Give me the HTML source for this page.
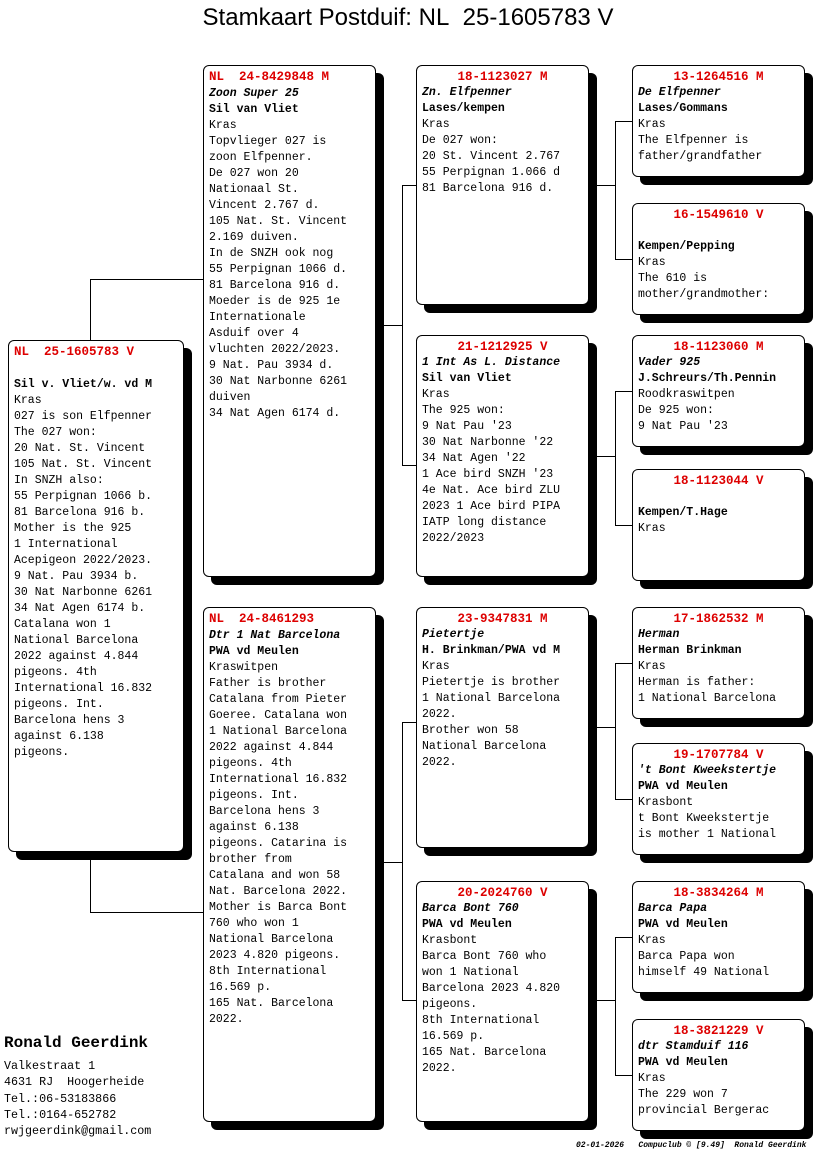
<!DOCTYPE html>
<html><head><style>
body{margin:0;width:816px;height:1172px;background:#fff;position:relative;font-family:"Liberation Mono",monospace;overflow:hidden}
.t{position:absolute;left:0;width:816px;top:4px;text-align:center;font-family:"Liberation Sans",sans-serif;font-size:24px}
.b{position:absolute;background:#fff;border:1px solid #000;border-radius:6px;box-shadow:8px 8px 0 #000;box-sizing:border-box;padding:3px 0 0 5px;font-size:11.5px;line-height:16px;white-space:pre;color:#000}
.h{color:#d00;font-weight:bold;font-size:12.5px}
.c{text-align:center;display:block;margin-left:-5px}
.i{font-style:italic;font-weight:bold}
.s{font-weight:bold}
.l{position:absolute;background:#000}
.f{position:absolute;left:4px;font-size:11.7px;line-height:16.3px;white-space:pre}
</style></head><body>
<div class="t">Stamkaart Postduif: NL&nbsp; 25-1605783 V</div>

<div class="l" style="left:90px;top:279px;width:1px;height:61px"></div>
<div class="l" style="left:90px;top:279px;width:113px;height:1px"></div>
<div class="l" style="left:90px;top:852px;width:1px;height:60px"></div>
<div class="l" style="left:90px;top:912px;width:113px;height:1px"></div>

<div class="l" style="left:376px;top:325px;width:26px;height:1px"></div>
<div class="l" style="left:402px;top:185px;width:1px;height:280px"></div>
<div class="l" style="left:402px;top:185px;width:14px;height:1px"></div>
<div class="l" style="left:402px;top:465px;width:14px;height:1px"></div>
<div class="l" style="left:376px;top:862px;width:26px;height:1px"></div>
<div class="l" style="left:402px;top:722px;width:1px;height:278px"></div>
<div class="l" style="left:402px;top:722px;width:14px;height:1px"></div>
<div class="l" style="left:402px;top:1000px;width:14px;height:1px"></div>

<div class="l" style="left:589px;top:185px;width:26px;height:1px"></div>
<div class="l" style="left:615px;top:121px;width:1px;height:138px"></div>
<div class="l" style="left:615px;top:121px;width:17px;height:1px"></div>
<div class="l" style="left:615px;top:259px;width:17px;height:1px"></div>
<div class="l" style="left:589px;top:456px;width:26px;height:1px"></div>
<div class="l" style="left:615px;top:391px;width:1px;height:134px"></div>
<div class="l" style="left:615px;top:391px;width:17px;height:1px"></div>
<div class="l" style="left:615px;top:525px;width:17px;height:1px"></div>
<div class="l" style="left:589px;top:727px;width:26px;height:1px"></div>
<div class="l" style="left:615px;top:663px;width:1px;height:136px"></div>
<div class="l" style="left:615px;top:663px;width:17px;height:1px"></div>
<div class="l" style="left:615px;top:799px;width:17px;height:1px"></div>
<div class="l" style="left:589px;top:1000px;width:26px;height:1px"></div>
<div class="l" style="left:615px;top:937px;width:1px;height:138px"></div>
<div class="l" style="left:615px;top:937px;width:17px;height:1px"></div>
<div class="l" style="left:615px;top:1075px;width:17px;height:1px"></div>

<div class="b" style="left:8px;top:340px;width:176px;height:512px"><span class="h">NL  25-1605783 V</span>

<span class="s">Sil v. Vliet/w. vd M</span>
Kras
027 is son Elfpenner
The 027 won:
20 Nat. St. Vincent
105 Nat. St. Vincent
In SNZH also:
55 Perpignan 1066 b.
81 Barcelona 916 b.
Mother is the 925
1 International
Acepigeon 2022/2023.
9 Nat. Pau 3934 b.
30 Nat Narbonne 6261
34 Nat Agen 6174 b.
Catalana won 1
National Barcelona
2022 against 4.844
pigeons. 4th
International 16.832
pigeons. Int.
Barcelona hens 3
against 6.138
pigeons.</div>

<div class="b" style="left:203px;top:65px;width:173px;height:512px"><span class="h">NL  24-8429848 M</span>
<span class="i">Zoon Super 25</span>
<span class="s">Sil van Vliet</span>
Kras
Topvlieger 027 is
zoon Elfpenner.
De 027 won 20
Nationaal St.
Vincent 2.767 d.
105 Nat. St. Vincent
2.169 duiven.
In de SNZH ook nog
55 Perpignan 1066 d.
81 Barcelona 916 d.
Moeder is de 925 1e
Internationale
Asduif over 4
vluchten 2022/2023.
9 Nat. Pau 3934 d.
30 Nat Narbonne 6261
duiven
34 Nat Agen 6174 d.</div>

<div class="b" style="left:203px;top:607px;width:173px;height:515px"><span class="h">NL  24-8461293</span>
<span class="i">Dtr 1 Nat Barcelona</span>
<span class="s">PWA vd Meulen</span>
Kraswitpen
Father is brother
Catalana from Pieter
Goeree. Catalana won
1 National Barcelona
2022 against 4.844
pigeons. 4th
International 16.832
pigeons. Int.
Barcelona hens 3
against 6.138
pigeons. Catarina is
brother from
Catalana and won 58
Nat. Barcelona 2022.
Mother is Barca Bont
760 who won 1
National Barcelona
2023 4.820 pigeons.
8th International
16.569 p.
165 Nat. Barcelona
2022.</div>

<div class="b" style="left:416px;top:65px;width:173px;height:240px"><span class="h c">18-1123027 M</span><span class="i">Zn. Elfpenner</span>
<span class="s">Lases/kempen</span>
Kras
De 027 won:
20 St. Vincent 2.767
55 Perpignan 1.066 d
81 Barcelona 916 d.</div>

<div class="b" style="left:416px;top:335px;width:173px;height:242px"><span class="h c">21-1212925 V</span><span class="i">1 Int As L. Distance</span>
<span class="s">Sil van Vliet</span>
Kras
The 925 won:
9 Nat Pau '23
30 Nat Narbonne '22
34 Nat Agen '22
1 Ace bird SNZH '23
4e Nat. Ace bird ZLU
2023 1 Ace bird PIPA
IATP long distance
2022/2023</div>

<div class="b" style="left:416px;top:607px;width:173px;height:241px"><span class="h c">23-9347831 M</span><span class="i">Pietertje</span>
<span class="s">H. Brinkman/PWA vd M</span>
Kras
Pietertje is brother
1 National Barcelona
2022.
Brother won 58
National Barcelona
2022.</div>

<div class="b" style="left:416px;top:881px;width:173px;height:241px"><span class="h c">20-2024760 V</span><span class="i">Barca Bont 760</span>
<span class="s">PWA vd Meulen</span>
Krasbont
Barca Bont 760 who
won 1 National
Barcelona 2023 4.820
pigeons.
8th International
16.569 p.
165 Nat. Barcelona
2022.</div>

<div class="b" style="left:632px;top:65px;width:173px;height:112px"><span class="h c">13-1264516 M</span><span class="i">De Elfpenner</span>
<span class="s">Lases/Gommans</span>
Kras
The Elfpenner is
father/grandfather</div>
<div class="b" style="left:632px;top:203px;width:173px;height:112px"><span class="h c">16-1549610 V</span>
<span class="s">Kempen/Pepping</span>
Kras
The 610 is
mother/grandmother:</div>
<div class="b" style="left:632px;top:335px;width:173px;height:112px"><span class="h c">18-1123060 M</span><span class="i">Vader 925</span>
<span class="s">J.Schreurs/Th.Pennin</span>
Roodkraswitpen
De 925 won:
9 Nat Pau '23</div>
<div class="b" style="left:632px;top:469px;width:173px;height:112px"><span class="h c">18-1123044 V</span>
<span class="s">Kempen/T.Hage</span>
Kras</div>
<div class="b" style="left:632px;top:607px;width:173px;height:112px"><span class="h c">17-1862532 M</span><span class="i">Herman</span>
<span class="s">Herman Brinkman</span>
Kras
Herman is father:
1 National Barcelona</div>
<div class="b" style="left:632px;top:743px;width:173px;height:112px"><span class="h c">19-1707784 V</span><span class="i">'t Bont Kweekstertje</span>
<span class="s">PWA vd Meulen</span>
Krasbont
t Bont Kweekstertje
is mother 1 National</div>
<div class="b" style="left:632px;top:881px;width:173px;height:112px"><span class="h c">18-3834264 M</span><span class="i">Barca Papa</span>
<span class="s">PWA vd Meulen</span>
Kras
Barca Papa won
himself 49 National</div>
<div class="b" style="left:632px;top:1019px;width:173px;height:112px"><span class="h c">18-3821229 V</span><span class="i">dtr Stamduif 116</span>
<span class="s">PWA vd Meulen</span>
Kras
The 229 won 7
provincial Bergerac</div>

<div style="position:absolute;left:4px;top:1034px;font-size:16px;font-weight:bold">Ronald Geerdink</div>
<div class="f" style="top:1058px">Valkestraat 1
4631 RJ  Hoogerheide
Tel.:06-53183866
Tel.:0164-652782
rwjgeerdink@gmail.com</div>
<div style="position:absolute;left:576px;top:1141px;font-size:8px;font-style:italic;font-weight:bold;white-space:pre">02-01-2026   Compuclub © [9.49]  Ronald Geerdink</div>
</body></html>
